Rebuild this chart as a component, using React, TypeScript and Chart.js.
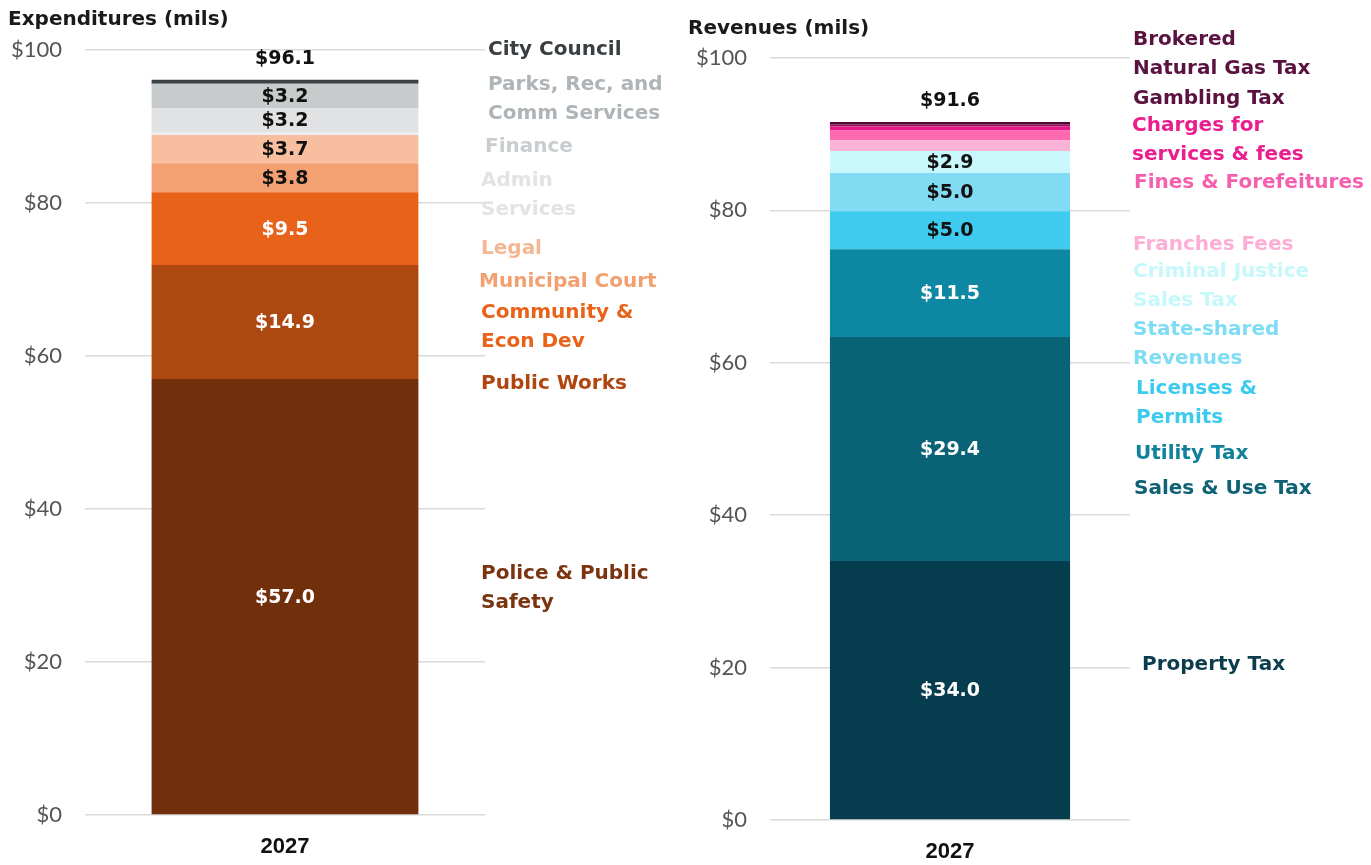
import React, { useEffect, useRef } from "react";
import { Chart, registerables } from "chart.js";
Chart.register(...registerables);

const categories = ["2027"];
const yTickStep = 20;
const yMax = 100;

const expNames = ["Police & Public Safety", "Public Works", "Community & Econ Dev", "Municipal Court", "Legal", "Admin Services", "Finance", "Parks, Rec, and Comm Services", "City Council"];
const expValues = [57.0, 14.9, 9.5, 3.8, 3.7, 0.3, 3.2, 3.2, 0.5];
const expColors = ["#722f0c", "#ae4811", "#e8621a", "#f3a072", "#f7bea0", "#ededee", "#e0e2e3", "#c7cbcc", "#3b4245"];
const expTextColors = ["#ffffff", "#ffffff", "#ffffff", "#111111", "#111111", "#111111", "#111111", "#111111", "#ffffff"];
const expTotal = 96.1;

const revNames = ["Property Tax", "Sales & Use Tax", "Utility Tax", "Licenses & Permits", "State-shared Revenues", "Criminal Justice Sales Tax", "Franches Fees", "Fines & Forefeitures", "Charges for services & fees", "Gambling Tax", "Brokered Natural Gas Tax"];
const revValues = [34.0, 29.4, 11.5, 5.0, 5.0, 2.9, 1.4, 1.3, 0.5, 0.3, 0.3];
const revColors = ["#063d4e", "#0a6276", "#0e87a3", "#3fcbef", "#80dbf3", "#c8f8fb", "#fab2d6", "#fe69b2", "#e8178a", "#8c1053", "#4e0a32"];
const revTextColors = ["#ffffff", "#ffffff", "#ffffff", "#111111", "#111111", "#111111", "#111111", "#111111", "#ffffff", "#ffffff", "#ffffff"];
const revTotal = 91.6;

const expLegendLines = [
  { lines: ["City Council"], color: "#3a3f42" },
  { lines: ["Parks, Rec, and", "Comm Services"], color: "#aeb4b7" },
  { lines: ["Finance"], color: "#c9cdd0" },
  { lines: ["Admin", "Services"], color: "#e1e3e4" },
  { lines: ["Legal"], color: "#f5b793" },
  { lines: ["Municipal Court"], color: "#f2a070" },
  { lines: ["Community &", "Econ Dev"], color: "#e8621a" },
  { lines: ["Public Works"], color: "#b0460f" },
  { lines: ["Police & Public", "Safety"], color: "#7a3410" },
];
const expLegendPos = [[488, 48], [488, 83], [485, 145], [481, 179], [481, 247], [479, 280], [481, 311], [481, 382], [481, 572]];

const revLegendLines = [
  { lines: ["Brokered", "Natural Gas Tax"], color: "#5a1240" },
  { lines: ["Gambling Tax"], color: "#5a1240" },
  { lines: ["Charges for", "services & fees"], color: "#ea1e8f" },
  { lines: ["Fines & Forefeitures"], color: "#f560ae" },
  { lines: ["Franches Fees"], color: "#fcaed4" },
  { lines: ["Criminal Justice", "Sales Tax"], color: "#c6f7fb" },
  { lines: ["State-shared", "Revenues"], color: "#7edcf3" },
  { lines: ["Licenses &", "Permits"], color: "#3ccbef" },
  { lines: ["Utility Tax"], color: "#11809b" },
  { lines: ["Sales & Use Tax"], color: "#0f6275" },
  { lines: ["Property Tax"], color: "#0b3d4d" },
];
const revLegendPos = [[1133, 38], [1133, 97], [1132, 124], [1134, 181], [1133, 243], [1133, 270], [1133, 328], [1136, 387], [1135, 452], [1134, 487], [1142, 663]];

const BOLD_FONT = "'DejaVu Sans', sans-serif";
const TICK_FONT = "Lato, 'Open Sans', sans-serif";
const CAT_FONT = "'Liberation Sans', Arial, sans-serif";
const LINE_H = 29;

type ChartProps = {
  names: string[];
  values: number[];
  colors: string[];
  textColors: string[];
  total: number;
  width: number;
  height: number;
  padTop: number;
  xAxisH: number;
};

function StackChart(p: ChartProps) {
  const ref = useRef<HTMLCanvasElement | null>(null);
  useEffect(() => {
    if (!ref.current) return;
    const labelPlugin = {
      id: "segLabels",
      afterDatasetsDraw(chart: any) {
        const ctx = chart.ctx;
        ctx.save();
        ctx.font = `bold 19px ${BOLD_FONT}`;
        ctx.textAlign = "center";
        ctx.textBaseline = "middle";
        let topY = Infinity;
        let cx = 0;
        chart.data.datasets.forEach((ds: any, i: number) => {
          const el = chart.getDatasetMeta(i).data[0];
          if (!el) return;
          topY = Math.min(topY, el.y);
          cx = el.x;
          const v = ds.data[0];
          if (v >= 2.5) {
            ctx.fillStyle = p.textColors[i];
            ctx.fillText("$" + v.toFixed(1), el.x, (el.y + el.base) / 2 + 1);
          }
        });
        ctx.fillStyle = "#111111";
        ctx.fillText("$" + p.total.toFixed(1), cx, topY - 21);
        ctx.restore();
      },
    };
    const chart = new Chart(ref.current, {
      type: "bar",
      data: {
        labels: categories,
        datasets: p.names.map((n, i) => ({
          label: n,
          data: [p.values[i]],
          backgroundColor: p.colors[i],
          borderWidth: 0,
          categoryPercentage: 1,
          barPercentage: 0.667,
        })),
      },
      options: {
        responsive: false,
        animation: false,
        devicePixelRatio: 1,
        layout: { padding: { top: p.padTop, right: 15, left: 0, bottom: 0 } },
        plugins: { legend: { display: false }, tooltip: { enabled: false }, title: { display: false } },
        scales: {
          x: {
            stacked: true,
            grid: { display: false, drawTicks: false },
            border: { display: false },
            ticks: { color: "#111111", font: { family: CAT_FONT, size: 22, weight: "bold" }, padding: 19 },
            afterFit: (s: any) => { s.height = p.xAxisH; },
          },
          y: {
            stacked: true,
            min: 0,
            max: yMax,
            grid: { color: "#d9d9d9", lineWidth: 1.5, drawTicks: false },
            border: { display: false },
            ticks: {
              stepSize: yTickStep,
              color: "#555555",
              font: { family: TICK_FONT, size: 22 },
              padding: 23,
              callback: (v: any) => "$" + v,
            },
            afterFit: (s: any) => { s.width = 85; },
          },
        },
      },
      plugins: [labelPlugin],
    } as any);
    return () => chart.destroy();
  }, []);
  return <canvas ref={ref} width={p.width} height={p.height} style={{ display: "block" }} />;
}

function LegendBlock({ items, pos }: { items: { lines: string[]; color: string }[]; pos: number[][] }) {
  return (
    <>
      {items.map((it, i) => (
        <div
          key={i}
          style={{
            position: "absolute",
            left: pos[i][0],
            top: pos[i][1] - LINE_H / 2,
            color: it.color,
            font: `bold 20px ${BOLD_FONT}`,
            lineHeight: LINE_H + "px",
            whiteSpace: "nowrap",
          }}
        >
          {it.lines.map((l, j) => (
            <div key={j}>{l}</div>
          ))}
        </div>
      ))}
    </>
  );
}

export default function App() {
  return (
    <div style={{ position: "absolute", left: 0, top: 0, width: 1371, height: 865, background: "#ffffff", overflow: "hidden" }}>
      <div style={{ position: "absolute", left: 0, top: 0 }}>
        <StackChart names={expNames} values={expValues} colors={expColors} textColors={expTextColors} total={expTotal} width={500} height={865} padTop={50} xAxisH={50} />
      </div>
      <div style={{ position: "absolute", left: 685, top: 0 }}>
        <StackChart names={revNames} values={revValues} colors={revColors} textColors={revTextColors} total={revTotal} width={460} height={865} padTop={58} xAxisH={45} />
      </div>
      <div style={{ position: "absolute", left: 8, top: 4, font: `bold 20px ${BOLD_FONT}`, color: "#1a1a1a", lineHeight: "28px", whiteSpace: "nowrap" }}>Expenditures (mils)</div>
      <div style={{ position: "absolute", left: 688, top: 13, font: `bold 20px ${BOLD_FONT}`, color: "#1a1a1a", lineHeight: "28px", whiteSpace: "nowrap" }}>Revenues (mils)</div>
      <LegendBlock items={expLegendLines} pos={expLegendPos} />
      <LegendBlock items={revLegendLines} pos={revLegendPos} />
    </div>
  );
}
